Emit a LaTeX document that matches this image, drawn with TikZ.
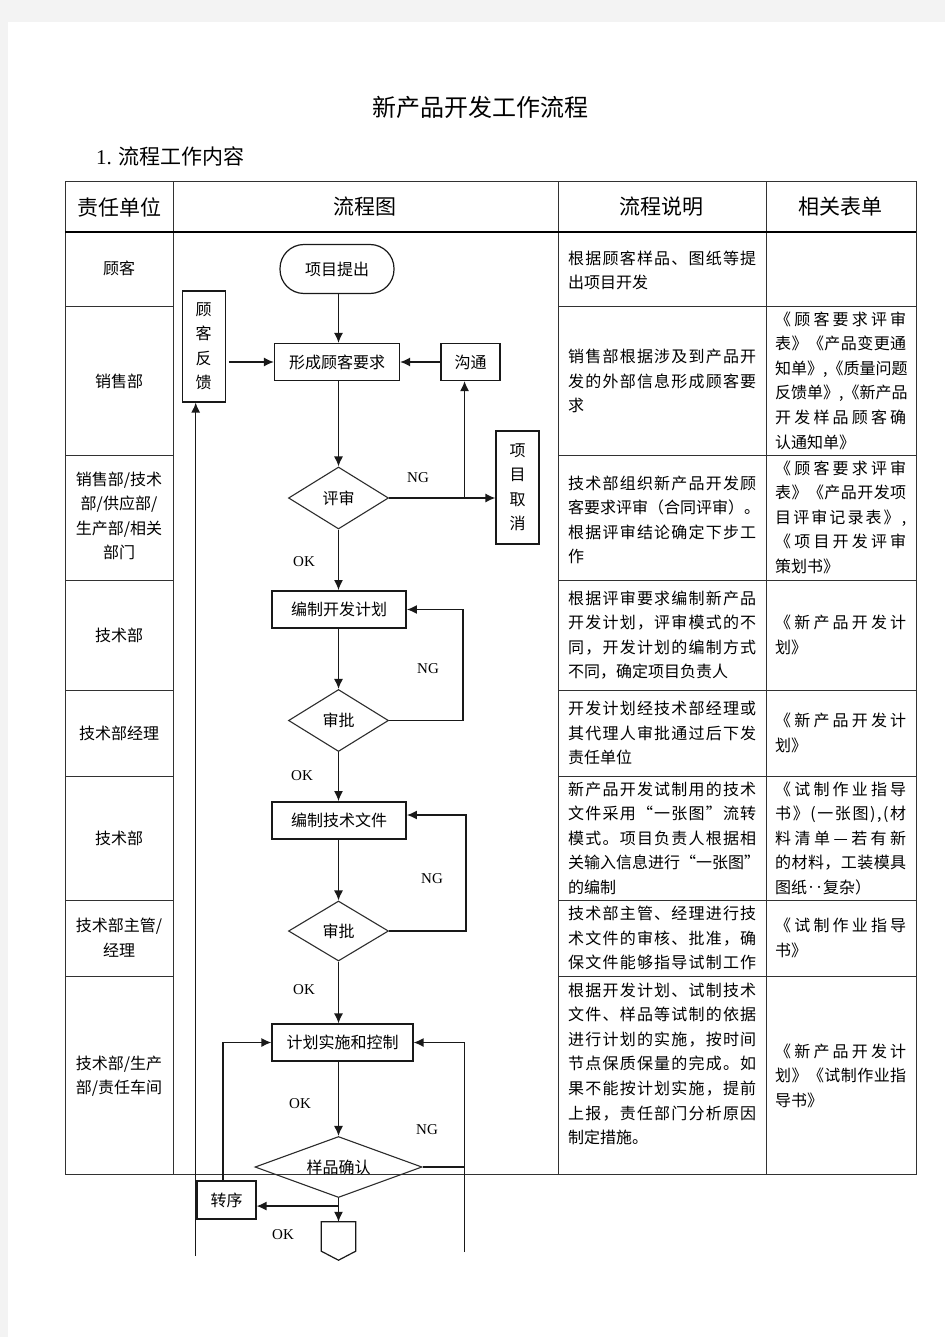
\documentclass[tikz,border=0pt]{standalone}
\usepackage{fontspec}
\setmainfont{Noto Sans CJK SC}
\newfontfamily\tnr{Liberation Serif}
\usetikzlibrary{shapes.geometric,arrows.meta,calc}
\definecolor{tl}{RGB}{50,50,50}
\definecolor{fl}{RGB}{25,25,25}
\definecolor{dl}{RGB}{45,45,45}
\definecolor{bgg}{RGB}{243,243,243}
\let\jlEnd\relax
\def\jlA#1{#1\jlB}
\def\jlB#1{\ifx#1\jlEnd\else\hfil#1\expandafter\jlB\fi}
\newcommand\jl[2][188pt]{\makebox[#1][s]{\jlA#2\jlEnd}}
\newcommand\ct[1]{\parbox[t]{200pt}{\fontsize{16}{24.6}\selectfont #1}}
\newcommand\cc[1]{\parbox[t]{104pt}{\centering\fontsize{16}{24.6}\selectfont #1}}
\newcommand\ff{\fontsize{16}{24.5}\selectfont}
\newcommand\lf{\tnr\fontsize{15}{18}\selectfont}
\begin{document}
\begin{tikzpicture}[x=1pt,y=-1pt,
  tline/.style={line width=1pt,draw=tl},
  hline/.style={line width=1.5pt,draw=black},
  ctext/.style={anchor=base west,inner sep=0pt},
  ctr/.style={anchor=base,inner sep=0pt},
  head/.style={inner sep=0pt,font=\fontsize{21}{25}\selectfont},
  fbox/.style={draw=fl,line width=1.2pt,inner sep=0pt,font=\ff,minimum height=37pt},
  tbox/.style={fbox,line width=1.9pt},
  vbox/.style={fbox,align=center,minimum width=43pt},
  term/.style={fbox,rounded corners=24pt,minimum width=114pt,minimum height=49pt},
  dia/.style={diamond,draw=dl,line width=1.1pt,inner sep=0pt,font=\ff,aspect=1.6,minimum width=100pt,minimum height=62pt},
  arr/.style={draw=fl,line width=1.3pt,-{Latex[length=10pt,width=9pt]}},
  ln/.style={draw=fl,line width=1.3pt},
  lbl/.style={inner sep=0pt,font=\lf}]
\useasboundingbox (0,0) rectangle (945,1337);
\fill[bgg] (0,0) rectangle (945,1337);
\fill[white] (8,22) rectangle (945,1337);

% title
\node[inner sep=0pt,font=\fontsize{24}{28}\selectfont] (title) at (480,107) {新产品开发工作流程};
\node[inner sep=0pt,anchor=west,font=\fontsize{21}{25}\selectfont] (sub) at (96,156) {{\tnr 1.} 流程工作内容};

% table
\draw[tline] (65,182) rectangle (916,1174);
\foreach \x in {173,558,766} \draw[tline] (\x,182) -- (\x,1174);
\draw[hline] (65,232) -- (916,232);
\foreach \y in {306,455,580,690,776,900,976} {
  \draw[tline] (65,\y) -- (173,\y);
  \draw[tline] (558,\y) -- (916,\y);
}
\node[head] (h1) at (119,207) {责任单位};
\node[head] (h2) at (365,207) {流程图};
\node[head] (h3) at (661,207) {流程说明};
\node[head] (h4) at (840,207) {相关表单};

% column 1
\node[ctr] (u1) at (119,275) {\cc{顾客}};
\node[ctr] (u2) at (119,387) {\cc{销售部}};
\node[ctr] (u3) at (119,485) {\cc{销售部/技术\\部/供应部/\\生产部/相关\\部门}};
\node[ctr] (u4) at (119,641) {\cc{技术部}};
\node[ctr] (u5) at (119,739) {\cc{技术部经理}};
\node[ctr] (u6) at (119,844) {\cc{技术部}};
\node[ctr] (u7) at (119,931.7) {\cc{技术部主管/\\经理}};
\node[ctr] (u8) at (119,1069) {\cc{技术部/生产\\部/责任车间}};

% column 3
\node[ctext] (d1) at (568,264.3) {\ct{\jl{根据顾客样品、图纸等提}\\出项目开发}};
\node[ctext] (d2) at (568,362.7) {\ct{\jl{销售部根据涉及到产品开}\\\jl{发的外部信息形成顾客要}\\求}};
\node[ctext] (d3) at (568,489) {\ct{\jl{技术部组织新产品开发顾}\\\jl{客要求评审（合同评审）。}\\\jl{根据评审结论确定下步工}\\作}};
\node[ctext] (d4) at (568,604) {\ct{\jl{根据评审要求编制新产品}\\\jl{开发计划，评审模式的不}\\\jl{同，开发计划的编制方式}\\不同，确定项目负责人}};
\node[ctext] (d5) at (568,714.5) {\ct{\jl{开发计划经技术部经理或}\\\jl{其代理人审批通过后下发}\\责任单位}};
\node[ctext] (d6) at (568,795) {\ct{\jl{新产品开发试制用的技术}\\\jl{文件采用“一张图”流转}\\\jl{模式。项目负责人根据相}\\\jl{关输入信息进行“一张图”}\\的编制}};
\node[ctext] (d7) at (568,919.4) {\ct{\jl{技术部主管、经理进行技}\\\jl{术文件的审核、批准，确}\\\jl{保文件能够指导试制工作}}};
\node[ctext] (d8) at (568,996) {\ct{\jl{根据开发计划、试制技术}\\\jl{文件、样品等试制的依据}\\\jl{进行计划的实施，按时间}\\\jl{节点保质保量的完成。如}\\\jl{果不能按计划实施，提前}\\\jl{上报，责任部门分析原因}\\制定措施。}};

% column 4
\node[ctext] (f2) at (775,325) {\ct{\jl[131pt]{《顾客要求评审}\\\jl[131pt]{表》《产品变更通}\\\jl[131pt]{知单》,《质量问题}\\\jl[131pt]{反馈单》,《新产品}\\\jl[131pt]{开发样品顾客确}\\认通知单》}};
\node[ctext] (f3) at (775,474) {\ct{\jl[131pt]{《顾客要求评审}\\\jl[131pt]{表》《产品开发项}\\\jl[131pt]{目评审记录表》,}\\\jl[131pt]{《项目开发评审}\\策划书》}};
\node[ctext] (f4) at (775,628.7) {\ct{\jl[131pt]{《新产品开发计}\\划》}};
\node[ctext] (f5) at (775,726.7) {\ct{\jl[131pt]{《新产品开发计}\\划》}};
\node[ctext] (f6) at (775,795) {\ct{\jl[131pt]{《试制作业指导}\\\jl[131pt]{书》(一张图),(材}\\\jl[131pt]{料清单—若有新}\\\jl[131pt]{的材料，工装模具}\\图纸‥复杂）}};
\node[ctext] (f7) at (775,931.7) {\ct{\jl[131pt]{《试制作业指导}\\书》}};
\node[ctext] (f8) at (775,1057) {\ct{\jl[131pt]{《新产品开发计}\\\jl[131pt]{划》《试制作业指}\\导书》}};

% flowchart nodes
\node[term] (start) at (337,269) {项目提出};
\node[fbox,minimum width=125pt] (req) at (337,362) {形成顾客要求};
\node[fbox,minimum width=59pt] (comm) at (470.5,362) {沟通};
\node[vbox,minimum height=111pt] (fb) at (203.7,346.5) {顾\\客\\反\\馈};
\node[vbox,minimum height=113pt] (cancel) at (517.5,487.5) {项\\目\\取\\消};
\node[dia] (rev) at (338.5,498) {评审};
\node[tbox,minimum width=134pt] (plan) at (339,609.5) {编制开发计划};
\node[dia] (ap1) at (338.5,720.5) {审批};
\node[tbox,minimum width=134pt] (tech) at (339,820.5) {编制技术文件};
\node[dia,aspect=1.67,minimum height=60pt] (ap2) at (338.5,931) {审批};
\node[fbox,minimum width=141pt] (exec) at (342.5,1042.5) {计划实施和控制};
\node[dia,aspect=2.74,minimum width=167pt,minimum height=61pt] (samp) at (338.5,1167) {样品确认};
\node[fbox,minimum width=59pt,minimum height=38pt] (trans) at (226.5,1200) {转序};
\node[inner sep=0pt,minimum width=34pt,minimum height=38pt] (cont) at (338.5,1241) {};
\draw[draw=fl,line width=1.2pt] (cont.north west) -- (cont.north east) -- ($(cont.south east)+(0,-9)$) -- (cont.south) -- ($(cont.south west)+(0,-9)$) -- cycle;

% labels
\node[lbl] (ng1) at (418,478) {NG};
\node[lbl] (ok1) at (304,562) {OK};
\node[lbl] (ng2) at (428,669) {NG};
\node[lbl] (ok2) at (302,776) {OK};
\node[lbl] (ng3) at (432,879) {NG};
\node[lbl] (ok3) at (304,990) {OK};
\node[lbl] (ok4) at (300,1104) {OK};
\node[lbl] (ng4) at (427,1130) {NG};
\node[lbl] (ok5) at (283,1235) {OK};

% connectors
\draw[arr] (start.south -| rev) -- (req.north -| rev);
\coordinate (fbo) at ([xshift=3pt]fb.east);
\draw[arr] (fbo |- req.west) -- (req.west);
\draw[arr] (comm) -- (req);
\draw[arr] (req.south -| rev) -- (rev.north);
\draw[arr] (rev.east) -- (rev.east -| cancel.west);
\coordinate (br) at ($(rev.east)+(75.5,0)$);
\draw[arr] (br) -- (br |- comm.south);
\draw[arr] (rev.south) -- (plan.north -| rev);
\draw[arr] (plan.south -| rev) -- (ap1.north);
\draw[arr] (ap1.east) -- ++(74,0) |- (plan.east);
\draw[arr] (ap1.south) -- (tech.north -| rev);
\draw[arr] (tech.south -| rev) -- (ap2.north);
\draw[arr] (ap2.east) -- ++(77,0) |- ([yshift=5.5pt]tech.east);
\draw[arr] (ap2.south) -- (exec.north -| rev);
\draw[arr] (exec.south -| rev) -- (samp.north);
\coordinate (rb) at (464.3,1252);
\draw[arr] (rb) |- (exec.east);
\draw[ln] (samp.east) -- (samp.east -| rb);
\draw[arr] (samp.south) -- (cont.north);
\coordinate (sj) at ($(samp.south)+(0,8)$);
\draw[arr] (sj) -- (sj -| trans.east);
\coordinate (tn) at ([xshift=-3.5pt]trans.north);
\draw[arr] (tn) |- (exec.west);
\coordinate (lb) at (195.7,1256);
\draw[arr] (lb) -- (lb |- fb.south);
\end{tikzpicture}
\end{document}
